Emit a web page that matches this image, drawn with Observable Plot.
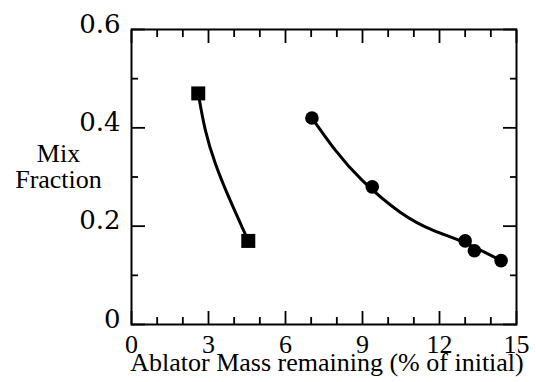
<!DOCTYPE html>
<html><head><meta charset="utf-8">
<script src="https://cdn.jsdelivr.net/npm/d3@7"></script>
<script src="https://cdn.jsdelivr.net/npm/@observablehq/plot@0.6"></script>
<style>
html, body{margin:0;padding:0;background:#fff}
</style>
</head><body><div id="chart"></div>
<script>
// data points
const squareX = [2.6, 4.55];
const squareY = [0.47, 0.17];
const circleX = [7.03, 9.38, 13.0, 13.36, 14.4];
const circleY = [0.42, 0.28, 0.17, 0.15, 0.13];
// fitted curves
const squareFitX = [2.6, 2.88, 3.27, 3.79, 4.37, 4.55];
const squareFitY = [0.47, 0.395, 0.327, 0.259, 0.191, 0.17];
const circleFitX = [7.03, 7.95, 8.99, 10.48, 11.78, 12.95, 14.4];
const circleFitY = [0.42, 0.354, 0.293, 0.228, 0.191, 0.167, 0.13];
// ticks
const xMajorTicks = [0, 3, 6, 9, 12, 15];
const xMinorTicks = [1, 2, 4, 5, 7, 8, 10, 11, 13, 14];
const yMajorTicks = [0, 0.2, 0.4, 0.6];
const yMinorTicks = [0.1, 0.3, 0.5];
const yTickLabels = ["0", "0.2", "0.4", "0.6"];
const xTitle = "Ablator Mass remaining (% of initial)";
const yTitle = "Mix\nFraction";

const squares = squareX.map((x, i) => ({x, y: squareY[i]}));
const circles = circleX.map((x, i) => ({x, y: circleY[i]}));
const squareFit = squareFitX.map((x, i) => ({x, y: squareFitY[i]}));
const circleFit = circleFitX.map((x, i) => ({x, y: circleFitY[i]}));

const tickStyle = {stroke: "black", strokeWidth: 1.8};

const chart = Plot.plot({
  width: 536,
  height: 382,
  marginLeft: 131,
  marginRight: 20,
  marginTop: 29,
  marginBottom: 58,
  x: {domain: [0, 15]},
  y: {domain: [0, 0.6]},
  marks: [
    // tick labels
    Plot.axisX({ticks: xMajorTicks, tickSize: 0, tickPadding: 10, fontSize: 26, fontFamily: "Times New Roman", fill: "black", label: null}),
    Plot.axisY({ticks: yMajorTicks, tickSize: 0, tickPadding: 11, dy: -5, fontSize: 26, fontFamily: "DejaVu Serif", fill: "black", label: null,
      tickFormat: d => yTickLabels[yMajorTicks.indexOf(d)]}),
    // inward ticks
    Plot.axisX({anchor: "bottom", ticks: xMajorTicks, tickSize: -13, text: null, label: null, ...tickStyle}),
    Plot.axisX({anchor: "bottom", ticks: xMinorTicks, tickSize: -7, text: null, label: null, ...tickStyle}),
    Plot.axisX({anchor: "top", ticks: xMajorTicks, tickSize: -13, text: null, label: null, ...tickStyle}),
    Plot.axisX({anchor: "top", ticks: xMinorTicks, tickSize: -7, text: null, label: null, ...tickStyle}),
    Plot.axisY({anchor: "left", ticks: yMajorTicks, tickSize: -14, text: null, label: null, ...tickStyle}),
    Plot.axisY({anchor: "left", ticks: yMinorTicks, tickSize: -7, text: null, label: null, ...tickStyle}),
    Plot.axisY({anchor: "right", ticks: yMajorTicks, tickSize: -14, text: null, label: null, ...tickStyle}),
    Plot.axisY({anchor: "right", ticks: yMinorTicks, tickSize: -7, text: null, label: null, ...tickStyle}),
    Plot.frame({stroke: "black", strokeWidth: 2}),
    // curves
    Plot.line(squareFit, {x: "x", y: "y", curve: "natural", stroke: "black", strokeWidth: 3}),
    Plot.line(circleFit, {x: "x", y: "y", curve: "natural", stroke: "black", strokeWidth: 3}),
    // markers
    Plot.dot(squares, {x: "x", y: "y", symbol: "square", r: 7.9, fill: "black", stroke: "none"}),
    Plot.dot(circles, {x: "x", y: "y", symbol: "circle", r: 6.8, fill: "black", stroke: "none"}),
    // titles
    Plot.text([xTitle], {frameAnchor: "bottom", text: d => d, dy: 46, dx: 3, fontSize: 26, fontFamily: "Liberation Serif", fill: "black"}),
    Plot.text([yTitle], {frameAnchor: "left", text: d => d, dx: -73, dy: -10, fontSize: 26, fontFamily: "serif", lineHeight: 1, textAnchor: "middle", fill: "black"})
  ]
});
document.getElementById("chart").appendChild(chart);
</script>
</body></html>
